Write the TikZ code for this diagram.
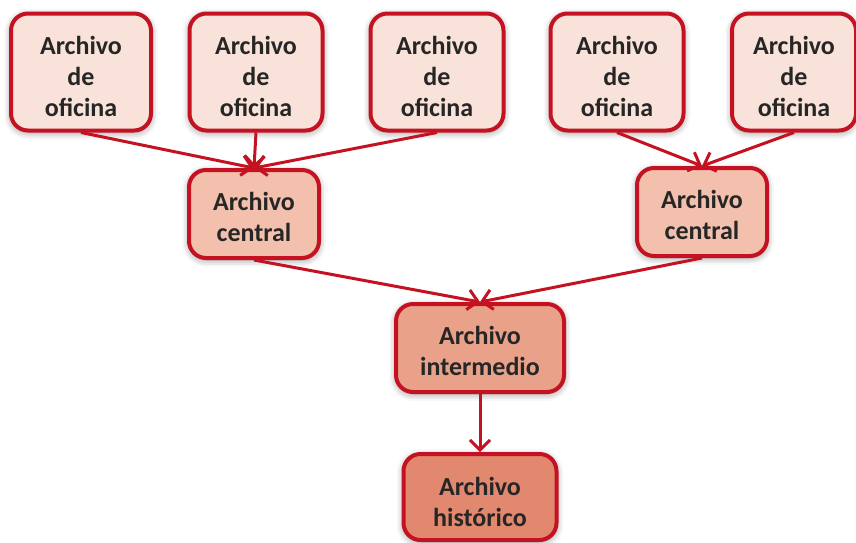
\documentclass[tikz,border=0pt]{standalone}
\usepackage{fontspec}
\setmainfont{Carlito}
\usepackage{tikz}
\usetikzlibrary{arrows.meta,shadows.blur}
\usepackage{xcolor}
\definecolor{borde}{RGB}{196,18,34}
\definecolor{texto}{RGB}{38,38,38}
\definecolor{ofi}{RGB}{249,226,218}
\definecolor{cen}{RGB}{242,192,172}
\definecolor{inter}{RGB}{233,161,138}
\definecolor{hist}{RGB}{225,136,110}

\begin{document}
\begin{tikzpicture}[x=1pt,y=1pt,auto,node distance=180pt,>={Straight Barb[length=10pt,width=20pt]}]
\tikzstyle{caja}=[rectangle,rounded corners=17pt,draw=borde,line width=4pt,text=texto,align=center,
  font=\fontsize{26}{31}\selectfont\bfseries,inner sep=2pt,text height=55pt,
  blur shadow={shadow xshift=0pt,shadow yshift=-2pt,shadow blur radius=7pt,shadow opacity=45}]
\tikzstyle{oficina}=[caja,fill=ofi,minimum width=133pt,minimum height=117pt,text height=90pt]
\tikzstyle{central}=[caja,fill=cen,minimum width=130pt,minimum height=88pt]
\tikzstyle{flecha}=[->,draw=borde,line width=3pt]
  \useasboundingbox (0,0) rectangle (856,-542);
  \node[oficina,minimum width=140pt](of1) at (81,-72){Archivo\\de\\oficina};
  \node[oficina,right of=of1,node distance=175pt](of2){Archivo\\de\\oficina};
  \node[oficina,right of=of2,node distance=181pt](of3){Archivo\\de\\oficina};
  \node[oficina,right of=of3,node distance=180pt](of4){Archivo\\de\\oficina};
  \node[oficina,right of=of4,node distance=177pt,minimum width=124pt](of5){Archivo\\de\\oficina};
  \node[central,below of=of2,node distance=142pt,xshift=-2pt](ce1){Archivo\\central};
  \node[central,below of=of4,node distance=140pt,xshift=85pt](ce2){Archivo\\central};
  \node[caja,fill=inter,minimum width=168pt,minimum height=88pt](int) at (480,-348){Archivo\\intermedio};
  \node[caja,fill=hist,minimum width=153pt,minimum height=86pt,text height=59pt,below of=int,node distance=149pt](his){Archivo\\histórico};
  \draw[flecha](of1.south)--(ce1.north);
  \draw[flecha](of2.south)--(ce1.north);
  \draw[flecha](of3.south)--(ce1.north);
  \draw[flecha](of4.south)--(ce2.north);
  \draw[flecha](of5.south)--(ce2.north);
  \draw[flecha](ce1.south)--(int.north);
  \draw[flecha](ce2.south)--(int.north);
  \draw[flecha](int.south)--(his.north);
\end{tikzpicture}
\end{document}
